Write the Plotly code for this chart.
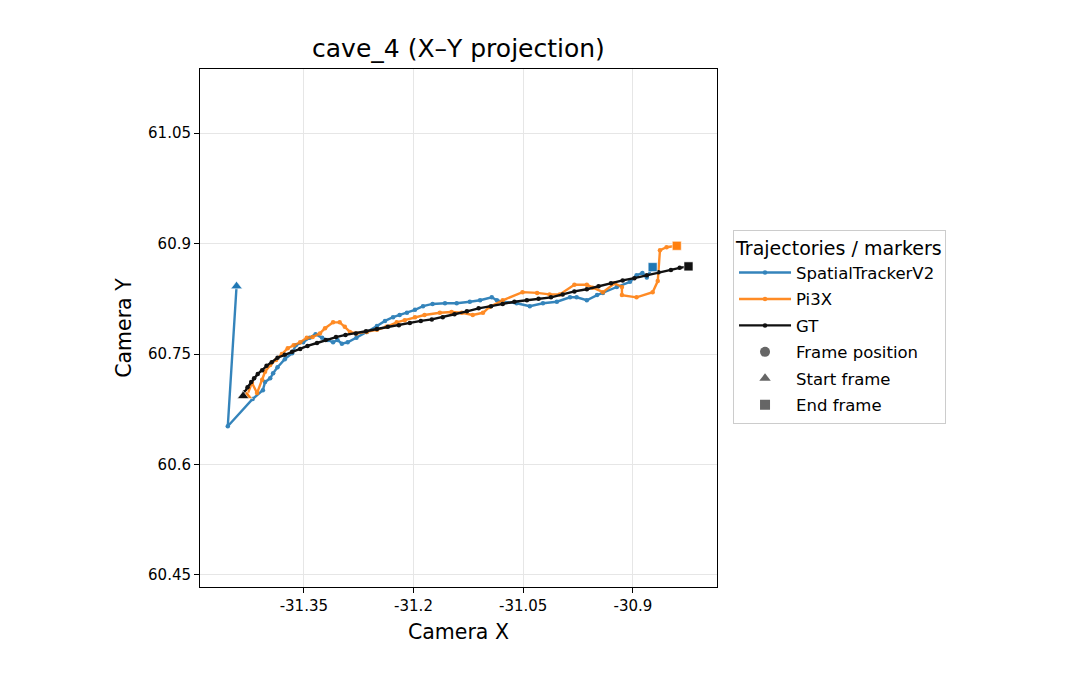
import plotly.graph_objects as go

gt_x = [-31.433, -31.431, -31.427, -31.422, -31.418, -31.413, -31.407, -31.401, -31.394, -31.386,
        -31.376, -31.366, -31.355, -31.345, -31.332, -31.320, -31.306, -31.293, -31.279, -31.265,
        -31.250, -31.235, -31.220, -31.205, -31.190, -31.175, -31.160, -31.144, -31.127, -31.111,
        -31.094, -31.078, -31.062, -31.045, -31.029, -31.012, -30.996, -30.980, -30.963, -30.947,
        -30.930, -30.914, -30.898, -30.881, -30.865, -30.848, -30.836, -30.824]
gt_y = [60.693, 60.698, 60.705, 60.712, 60.717, 60.723, 60.728, 60.734, 60.739, 60.745,
        60.749, 60.753, 60.757, 60.761, 60.765, 60.769, 60.773, 60.776, 60.778, 60.781,
        60.784, 60.787, 60.789, 60.792, 60.795, 60.797, 60.800, 60.804, 60.808, 60.812,
        60.815, 60.818, 60.821, 60.823, 60.825, 60.827, 60.831, 60.835, 60.838, 60.842,
        60.846, 60.850, 60.853, 60.857, 60.861, 60.864, 60.867, 60.869]

st_x = [-31.442, -31.454, -31.420, -31.406, -31.403, -31.396, -31.392, -31.386, -31.376, -31.366,
        -31.361, -31.351, -31.342, -31.334, -31.325, -31.317, -31.310, -31.304, -31.298, -31.290,
        -31.278, -31.264, -31.250, -31.239, -31.228, -31.219, -31.209, -31.198, -31.187, -31.174,
        -31.157, -31.141, -31.123, -31.109, -31.093, -31.086, -31.078, -31.059, -31.041, -31.023,
        -31.004, -30.986, -30.977, -30.963, -30.949, -30.941, -30.922, -30.904, -30.895, -30.887,
        -30.881, -30.873]
st_y = [60.842, 60.652, 60.689, 60.701, 60.712, 60.717, 60.724, 60.732, 60.743, 60.751,
        60.762, 60.766, 60.772, 60.777, 60.772, 60.769, 60.766, 60.769, 60.764, 60.766,
        60.772, 60.780, 60.788, 60.795, 60.800, 60.803, 60.806, 60.810, 60.815, 60.818,
        60.819, 60.819, 60.821, 60.823, 60.827, 60.823, 60.821, 60.819, 60.815, 60.819,
        60.821, 60.827, 60.827, 60.823, 60.830, 60.833, 60.841, 60.848, 60.857, 60.860,
        60.854, 60.868]

pi_x = [-31.428, -31.421, -31.414, -31.407, -31.403, -31.396, -31.388, -31.380, -31.372, -31.364,
        -31.355, -31.346, -31.338, -31.328, -31.321, -31.310, -31.301, -31.294, -31.287, -31.278,
        -31.264, -31.250, -31.237, -31.223, -31.212, -31.198, -31.185, -31.164, -31.148, -31.134,
        -31.119, -31.105, -31.096, -31.078, -31.051, -31.031, -31.014, -31.000, -30.980, -30.963,
        -30.955, -30.941, -30.925, -30.915, -30.915, -30.895, -30.873, -30.866, -30.863, -30.854,
        -30.840]
pi_y = [60.693, 60.711, 60.697, 60.715, 60.726, 60.735, 60.742, 60.750, 60.758, 60.762,
        60.766, 60.772, 60.773, 60.778, 60.785, 60.793, 60.793, 60.787, 60.780, 60.778,
        60.780, 60.783, 60.787, 60.793, 60.796, 60.800, 60.803, 60.806, 60.807, 60.806,
        60.803, 60.806, 60.814, 60.823, 60.834, 60.833, 60.831, 60.831, 60.844, 60.844,
        60.840, 60.834, 60.846, 60.841, 60.830, 60.827, 60.834, 60.849, 60.891, 60.895,
        60.897]

x_ticks = [-31.35, -31.2, -31.05, -30.9]
x_ticklabels = ["-31.35", "-31.2", "-31.05", "-30.9"]
y_ticks = [60.45, 60.6, 60.75, 60.9, 61.05]
y_ticklabels = ["60.45", "60.6", "60.75", "60.9", "61.05"]

series = [
    ("SpatialTrackerV2", st_x, st_y, "#1f77b4", 0.9),
    ("Pi3X", pi_x, pi_y, "#ff7f0e", 0.9),
    ("GT", gt_x, gt_y, "#111111", 1.0),
]

fig = go.Figure()
for name, xs, ys, col, op in series:
    fig.add_trace(go.Scatter(
        x=xs, y=ys, mode="lines+markers", name=name, legendgroup=name,
        line=dict(color=col, width=2.4), marker=dict(color=col, size=4.5),
        opacity=op, showlegend=True))
for name, xs, ys, col, op in series:
    fig.add_trace(go.Scatter(
        x=[xs[0]], y=[ys[0]], mode="markers", showlegend=False,
        marker=dict(symbol="triangle-up", color=col, size=10,
                    line=dict(color="white", width=0.6))))
    fig.add_trace(go.Scatter(
        x=[xs[-1]], y=[ys[-1]], mode="markers", showlegend=False,
        marker=dict(symbol="square", color=col, size=9,
                    line=dict(color="white", width=0.6))))

for label, sym in [("Frame position", "circle"), ("Start frame", "triangle-up"), ("End frame", "square")]:
    fig.add_trace(go.Scatter(
        x=[None], y=[None], mode="markers", name=label, legendgroup=label,
        marker=dict(symbol=sym, color="#666666", size=10)))

fig.update_layout(
    width=1080, height=690,
    margin=dict(l=200, r=363, t=69, b=103),
    paper_bgcolor="white", plot_bgcolor="white",
    font=dict(family="DejaVu Sans", color="black", size=15),
    title=dict(text="cave_4 (X–Y projection)", x=0.4245, xanchor="center",
               y=0.93, yanchor="middle", font=dict(size=25)),
    legend=dict(
        x=1.031, y=0.69, xanchor="left", yanchor="top",
        bordercolor="#cccccc", borderwidth=1, bgcolor="white",
        title=dict(text="Trajectories / markers", font=dict(size=19)),
        font=dict(size=16.5), itemwidth=52, tracegroupgap=2),
    showlegend=True,
)
fig.update_xaxes(
    range=[-31.492, -30.785], tickvals=x_ticks, ticktext=x_ticklabels,
    showgrid=True, gridcolor="#e6e6e6", gridwidth=1, zeroline=False,
    showline=True, linecolor="black", linewidth=1, mirror=True,
    ticks="outside", ticklen=5, tickcolor="black",
    title=dict(text="Camera X", font=dict(size=20.5), standoff=10),
    tickfont=dict(size=15))
fig.update_yaxes(
    range=[60.4337, 61.137], tickvals=y_ticks, ticktext=y_ticklabels,
    showgrid=True, gridcolor="#e6e6e6", gridwidth=1, zeroline=False,
    showline=True, linecolor="black", linewidth=1, mirror=True,
    ticks="outside", ticklen=5, tickcolor="black",
    title=dict(text="Camera Y", font=dict(size=20.5), standoff=10),
    tickfont=dict(size=15))

fig.write_html("out.html")
